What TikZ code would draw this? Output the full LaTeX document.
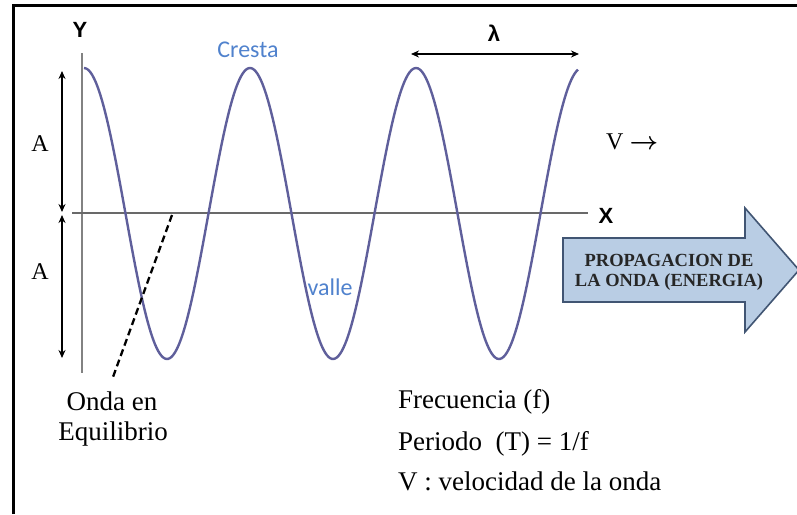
\documentclass[tikz,border=0pt]{standalone}
\usepackage{fontspec}
\setmainfont{Liberation Serif}
\newfontfamily\sansbfont{Liberation Sans}
\newfontfamily\calfont{Carlito}
\usetikzlibrary{arrows.meta}
\definecolor{wavecol}{RGB}{95,95,155}
\definecolor{labelblue}{RGB}{80,130,205}
\definecolor{arrowfill}{RGB}{185,205,228}
\definecolor{arrowdraw}{RGB}{65,85,115}
\definecolor{axisgray}{RGB}{130,130,130}
\definecolor{xaxisgray}{RGB}{105,105,105}
\tikzset{
  wave/.style={draw=wavecol, line width=2.4pt},
  yaxis/.style={draw=axisgray, line width=2.2pt},
  xaxis/.style={draw=xaxisgray, line width=2pt},
  dimarrow/.style={draw=black, line width=2.1pt, {Stealth[length=8pt,width=7pt]}-{Stealth[length=8pt,width=7pt]}},
  axlab/.style={font=\sansbfont\bfseries\fontsize{22}{26}\selectfont, inner sep=0pt},
  serlab/.style={font=\fontsize{24}{28}\selectfont, inner sep=0pt},
  bluelab/.style={font=\calfont\fontsize{24}{28}\selectfont, text=labelblue, inner sep=0pt},
  bodytext/.style={font=\fontsize{27}{32}\selectfont, inner sep=0pt},
  eqline/.style={draw=black, line width=2.3pt, dash pattern=on 7pt off 4pt},
  frame/.style={draw=black, line width=3pt},
  proparrow/.style={fill=arrowfill, draw=arrowdraw, line width=1.6pt, line join=miter}
}
\begin{document}
\begin{tikzpicture}[x=1pt,y=-1pt]
\useasboundingbox (0,0) rectangle (797,514);
% frame
\draw[frame] (13.5,514) -- (13.5,5.5) -- (797,5.5);
% axes
\coordinate (ytop) at (82,53);
\coordinate (ybot) at (82,373);
\coordinate (xleft) at (72,213);
\coordinate (xright) at (588,213);
\draw[yaxis] (ytop) -- (ybot);
\draw[xaxis] (xleft) -- (xright);
% wave
\draw[wave] plot[domain=84:578, samples=300, smooth] (\x,{213.5-145.5*cos(2.168675*(\x-84))});
% amplitude arrows
\coordinate (a1) at (62,71);
\coordinate (a2) at (62,212);
\coordinate (a3) at (62,215);
\coordinate (a4) at (62,358);
\draw[dimarrow] (a1) -- (a2);
\draw[dimarrow] (a3) -- (a4);
% wavelength arrow
\coordinate (l1) at (411,54);
\coordinate (l2) at (579,54);
\draw[dimarrow] (l1) -- (l2);
% equilibrium dashed line
\coordinate (eqtop) at (172,215);
\coordinate (eqbot) at (113,377);
\draw[eqline] (eqtop) -- (eqbot);
% labels
\node[axlab] (ylab) at (80,30) {Y};
\node[axlab] (xlab) at (606,216) {X};
\node[axlab] (lam) at (494,33) {λ};
\node[serlab] (aup) at (40,144) {A};
\node[serlab] (adown) at (40,272) {A};
\node[serlab, anchor=west] (vlab) at (606,142) {V {\boldmath$\rightarrow$}};
\node[bluelab] (cresta) at (248,50) {Cresta};
\node[bluelab] (valle) at (330,287) {valle};
\node[bodytext, anchor=base] (onda) at (112,410) {Onda en};
\node[bodytext, anchor=base] (equi) at (113,440) {Equilibrio};
\node[bodytext, anchor=base west] (freq) at (398,408) {Frecuencia (f)};
\node[bodytext, anchor=base west] (peri) at (398,450) {Periodo~~(T) = 1/f};
\node[bodytext, anchor=base west] (velo) at (398,490) {V : velocidad de la onda};
% propagation arrow
\draw[proparrow] (563,238) -- (745,238) -- (745,208) -- (799,270) -- (745,332) -- (745,302) -- (563,302) -- cycle;
\node[font=\bfseries\fontsize{18.5}{20}\selectfont, align=center, inner sep=0pt, text=black!85] (prop) at (669,272) {PROPAGACION DE\\LA ONDA (ENERGIA)};
\end{tikzpicture}
\end{document}
